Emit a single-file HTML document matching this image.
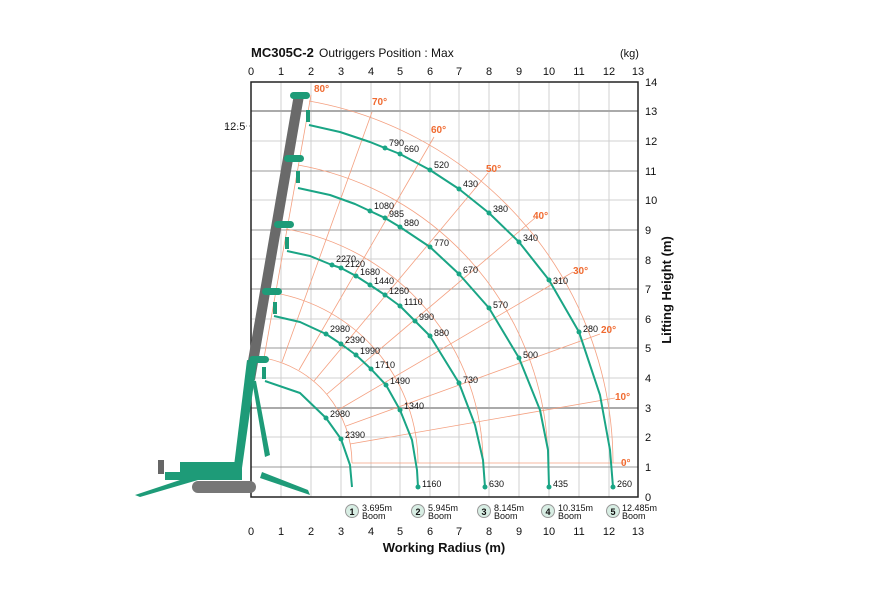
<!DOCTYPE html>
<html><head><meta charset="utf-8"><style>
body{margin:0;background:#fff}
svg text{font-family:"Liberation Sans",sans-serif}
</style></head><body>
<svg width="870" height="600" viewBox="0 0 870 600" xmlns="http://www.w3.org/2000/svg">
<rect width="870" height="600" fill="#fff"/>
<g stroke="#d0d0d0" stroke-width="1">
<line x1="281" y1="82" x2="281" y2="497"/><line x1="311" y1="82" x2="311" y2="497"/><line x1="341" y1="82" x2="341" y2="497"/><line x1="371" y1="82" x2="371" y2="497"/><line x1="400" y1="82" x2="400" y2="497"/><line x1="430" y1="82" x2="430" y2="497"/><line x1="459" y1="82" x2="459" y2="497"/><line x1="489" y1="82" x2="489" y2="497"/><line x1="519" y1="82" x2="519" y2="497"/><line x1="549" y1="82" x2="549" y2="497"/><line x1="579" y1="82" x2="579" y2="497"/><line x1="609" y1="82" x2="609" y2="497"/>
<line x1="251" y1="141" x2="638" y2="141"/><line x1="251" y1="200" x2="638" y2="200"/><line x1="251" y1="259" x2="638" y2="259"/><line x1="251" y1="319" x2="638" y2="319"/><line x1="251" y1="378" x2="638" y2="378"/><line x1="251" y1="437" x2="638" y2="437"/>
</g>
<g stroke="#999" stroke-width="1">
<line x1="251" y1="171" x2="638" y2="171"/><line x1="251" y1="230" x2="638" y2="230"/><line x1="251" y1="289" x2="638" y2="289"/><line x1="251" y1="348" x2="638" y2="348"/><line x1="251" y1="467" x2="638" y2="467"/>
</g>
<g stroke="#aaa" stroke-width="2"><line x1="251" y1="111" x2="638" y2="111"/><line x1="251" y1="408" x2="638" y2="408"/></g>
<line x1="225" y1="126" x2="251" y2="126" stroke="#888" stroke-dasharray="1,2"/>
<rect x="251" y="82" width="387" height="415" fill="none" stroke="#222" stroke-width="1.5"/>
<g stroke="#f4a080" stroke-width="0.8" fill="none">
<path d="M352,463 A107,107 0 0 0 264,358"/>
<path d="M418,463 A173,173 0 0 0 275,293"/>
<path d="M483,463 A238,238 0 0 0 286,229"/>
<path d="M548,463 A303,303 0 0 0 298,165"/>
<path d="M613,463 A368,368 0 0 0 309,101"/>
<line x1="352" y1="463" x2="625" y2="463"/>
<line x1="350" y1="444" x2="615" y2="398"/>
<line x1="346" y1="426" x2="600" y2="334"/>
<line x1="338" y1="410" x2="573" y2="272"/>
<line x1="327" y1="394" x2="535" y2="218"/>
<line x1="314" y1="381" x2="488" y2="173"/>
<line x1="299" y1="370" x2="434" y2="137"/>
<line x1="282" y1="362" x2="372" y2="112"/>
<line x1="264" y1="358" x2="311" y2="95"/>
</g>
<g fill="#f06a30" font-size="10" font-weight="bold">
<text x="314" y="92">80°</text><text x="372" y="105">70°</text><text x="431" y="133">60°</text><text x="486" y="172">50°</text><text x="533" y="219">40°</text><text x="573" y="274">30°</text><text x="601" y="333">20°</text><text x="615" y="400">10°</text><text x="621" y="466">0°</text>
</g>
<polygon points="294,94 304,96 255,380 245,378" fill="#6a6a6a"/>
<polygon points="247,360 257,362 242,468 234,466" fill="#1e9b78"/>
<polygon points="252,380 256,381 270,455 265,457" fill="#1e9b78"/>
<g fill="#1e9b78">
<rect x="290" y="92" width="20" height="7" rx="3.5"/>
<rect x="284" y="155" width="20" height="7" rx="3.5"/>
<rect x="274" y="221" width="20" height="7" rx="3.5"/>
<rect x="262" y="288" width="20" height="7" rx="3.5"/>
<rect x="249" y="356" width="20" height="7" rx="3.5"/>
<rect x="306" y="110" width="4" height="12"/>
<rect x="296" y="171" width="4" height="12"/>
<rect x="285" y="237" width="4" height="12"/>
<rect x="273" y="302" width="4" height="12"/>
<rect x="262" y="367" width="4" height="12"/>
</g>
<g fill="#1e9b78">
<polygon points="135,495 195,475 198,480 140,497"/>
<polygon points="262,472 308,490 310,495 260,478"/>
<rect x="180" y="462" width="62" height="18"/>
<rect x="165" y="472" width="20" height="8"/>
</g>
<rect x="192" y="481" width="64" height="12" rx="6" fill="#777"/>
<rect x="158" y="460" width="6" height="14" fill="#666"/>
<g fill="none" stroke="#1aa585" stroke-width="2" stroke-linejoin="round">
<polyline points="309,125 340,132 370,142 385,148 400,154 430,170 459,189 489,213 519,242 549,280 579,332 600,395 610,450 613,487"/>
<polyline points="298,188 330,195 355,204 370,211 385,218 400,227 430,247 459,274 489,308 519,358 540,410 548,450 549,487"/>
<polyline points="287,251 310,256 332,265 341,268 356,276 370,285 385,295 400,306 415,321 430,336 459,383 475,425 483,460 485,487"/>
<polyline points="274,316 300,322 326,334 341,344 356,355 371,369 386,385 400,410 412,440 417,470 418,487"/>
<polyline points="265,381 300,393 326,418 341,439 350,465 352,487"/>
</g>
<g fill="#1aa585">
<circle cx="385" cy="148" r="2.5"/><circle cx="400" cy="154" r="2.5"/><circle cx="430" cy="170" r="2.5"/><circle cx="459" cy="189" r="2.5"/><circle cx="489" cy="213" r="2.5"/><circle cx="519" cy="242" r="2.5"/><circle cx="549" cy="280" r="2.5"/><circle cx="579" cy="332" r="2.5"/><circle cx="613" cy="487" r="2.5"/>
<circle cx="370" cy="211" r="2.5"/><circle cx="385" cy="218" r="2.5"/><circle cx="400" cy="227" r="2.5"/><circle cx="430" cy="247" r="2.5"/><circle cx="459" cy="274" r="2.5"/><circle cx="489" cy="308" r="2.5"/><circle cx="519" cy="358" r="2.5"/><circle cx="549" cy="487" r="2.5"/>
<circle cx="332" cy="265" r="2.5"/><circle cx="341" cy="268" r="2.5"/><circle cx="356" cy="276" r="2.5"/><circle cx="370" cy="285" r="2.5"/><circle cx="385" cy="295" r="2.5"/><circle cx="400" cy="306" r="2.5"/><circle cx="415" cy="321" r="2.5"/><circle cx="430" cy="336" r="2.5"/><circle cx="459" cy="383" r="2.5"/><circle cx="485" cy="487" r="2.5"/>
<circle cx="326" cy="334" r="2.5"/><circle cx="341" cy="344" r="2.5"/><circle cx="356" cy="355" r="2.5"/><circle cx="371" cy="369" r="2.5"/><circle cx="386" cy="385" r="2.5"/><circle cx="400" cy="410" r="2.5"/><circle cx="418" cy="487" r="2.5"/>
<circle cx="326" cy="418" r="2.5"/><circle cx="341" cy="439" r="2.5"/>
</g>
<g font-size="9" fill="#111">
<text x="389" y="146">790</text><text x="404" y="152">660</text><text x="434" y="168">520</text><text x="463" y="187">430</text><text x="493" y="212">380</text><text x="523" y="241">340</text><text x="553" y="284">310</text><text x="583" y="332">280</text><text x="617" y="487">260</text>
<text x="374" y="209">1080</text><text x="389" y="217">985</text><text x="404" y="226">880</text><text x="434" y="246">770</text><text x="463" y="273">670</text><text x="493" y="308">570</text><text x="523" y="358">500</text><text x="553" y="487">435</text>
<text x="336" y="262">2270</text><text x="345" y="267">2120</text><text x="360" y="275">1680</text><text x="374" y="284">1440</text><text x="389" y="294">1260</text><text x="404" y="305">1110</text><text x="419" y="320">990</text><text x="434" y="336">880</text><text x="463" y="383">730</text><text x="489" y="487">630</text>
<text x="330" y="332">2980</text><text x="345" y="343">2390</text><text x="360" y="354">1990</text><text x="375" y="368">1710</text><text x="390" y="384">1490</text><text x="404" y="409">1340</text><text x="422" y="487">1160</text>
<text x="330" y="417">2980</text><text x="345" y="438">2390</text>
</g>
<g font-size="9" fill="#111">
<g><circle cx="352" cy="511" r="6.5" fill="#d8eee4" stroke="#999"/><text x="352" y="515" text-anchor="middle" font-weight="bold">1</text><text x="362" y="511">3.695m</text><text x="362" y="519">Boom</text></g>
<g><circle cx="418" cy="511" r="6.5" fill="#d8eee4" stroke="#999"/><text x="418" y="515" text-anchor="middle" font-weight="bold">2</text><text x="428" y="511">5.945m</text><text x="428" y="519">Boom</text></g>
<g><circle cx="484" cy="511" r="6.5" fill="#d8eee4" stroke="#999"/><text x="484" y="515" text-anchor="middle" font-weight="bold">3</text><text x="494" y="511">8.145m</text><text x="494" y="519">Boom</text></g>
<g><circle cx="548" cy="511" r="6.5" fill="#d8eee4" stroke="#999"/><text x="548" y="515" text-anchor="middle" font-weight="bold">4</text><text x="558" y="511">10.315m</text><text x="558" y="519">Boom</text></g>
<g><circle cx="613" cy="511" r="6.5" fill="#d8eee4" stroke="#999"/><text x="613" y="515" text-anchor="middle" font-weight="bold">5</text><text x="622" y="511">12.485m</text><text x="622" y="519">Boom</text></g>
</g>
<g font-size="11" fill="#111" text-anchor="middle">
<text x="251" y="75">0</text><text x="281" y="75">1</text><text x="311" y="75">2</text><text x="341" y="75">3</text><text x="371" y="75">4</text><text x="400" y="75">5</text><text x="430" y="75">6</text><text x="459" y="75">7</text><text x="489" y="75">8</text><text x="519" y="75">9</text><text x="549" y="75">10</text><text x="579" y="75">11</text><text x="609" y="75">12</text><text x="638" y="75">13</text>
<text x="251" y="535">0</text><text x="281" y="535">1</text><text x="311" y="535">2</text><text x="341" y="535">3</text><text x="371" y="535">4</text><text x="400" y="535">5</text><text x="430" y="535">6</text><text x="459" y="535">7</text><text x="489" y="535">8</text><text x="519" y="535">9</text><text x="549" y="535">10</text><text x="579" y="535">11</text><text x="609" y="535">12</text><text x="638" y="535">13</text>
</g>
<g font-size="11" fill="#111">
<text x="645" y="501">0</text><text x="645" y="471">1</text><text x="645" y="441">2</text><text x="645" y="412">3</text><text x="645" y="382">4</text><text x="645" y="352">5</text><text x="645" y="323">6</text><text x="645" y="293">7</text><text x="645" y="264">8</text><text x="645" y="234">9</text><text x="645" y="204">10</text><text x="645" y="175">11</text><text x="645" y="145">12</text><text x="645" y="115">13</text><text x="645" y="86">14</text>
<text x="224" y="130">12.5</text>
<text x="620" y="57">(kg)</text>
</g>
<text x="251" y="57" font-size="13" font-weight="bold" fill="#111">MC305C-2</text>
<text x="319" y="57" font-size="12" fill="#111">Outriggers Position : Max</text>
<text x="444" y="552" font-size="13" font-weight="bold" fill="#111" text-anchor="middle">Working Radius (m)</text>
<text transform="translate(671,290) rotate(-90)" font-size="13" font-weight="bold" fill="#111" text-anchor="middle">Lifting Height (m)</text>
</svg>
</body></html>
